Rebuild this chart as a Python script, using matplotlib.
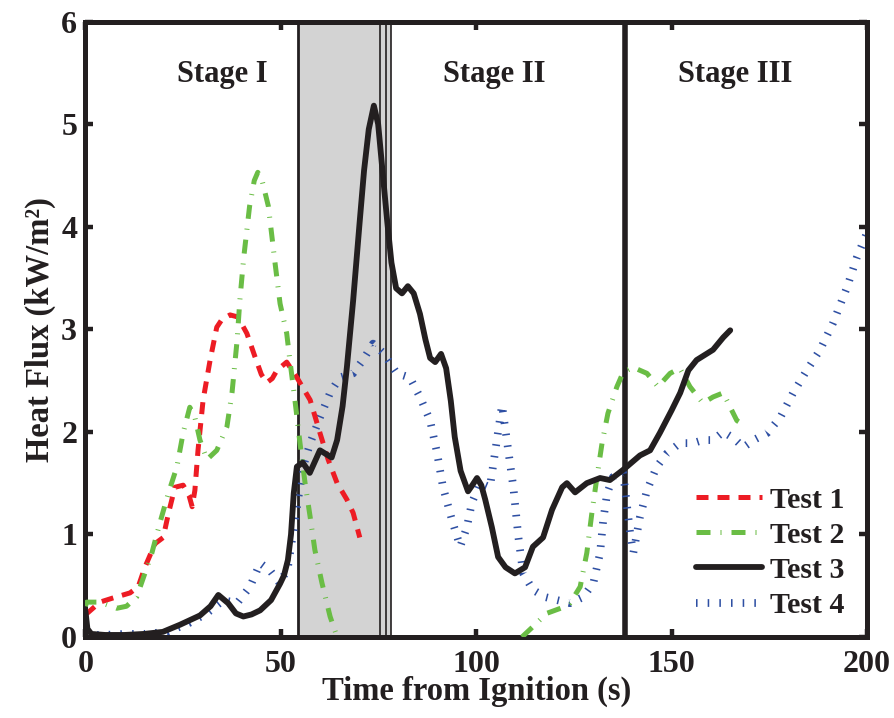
import matplotlib
matplotlib.use("Agg")
import matplotlib.pyplot as plt
import numpy as np

plt.rcParams['font.family'] = ['Liberation Serif', 'DejaVu Serif']
plt.rcParams['font.weight'] = 'bold'

# ---- data ----
t1 = [0, 0.7, 3.7, 7, 11.4, 13.5, 15.2, 17.8, 19.9, 21.2, 22.9, 25, 26.5, 27.3, 28, 28.8, 30.1, 31.9,
      33.6, 35, 37, 39, 41.3, 43.4, 45, 46.4, 47.8, 49, 51.5, 54.1, 57.5, 60, 62.1, 64.4, 66.9, 68.5, 70.2]
y1 = [0.22, 0.24, 0.34, 0.38, 0.43, 0.49, 0.68, 0.91, 0.97, 1.2, 1.46, 1.48, 1.38, 1.27, 1.43, 1.82, 2.31, 2.7,
      3.02, 3.1, 3.14, 3.12, 2.96, 2.73, 2.56, 2.48, 2.52, 2.6, 2.68, 2.53, 2.31, 1.99, 1.73, 1.5, 1.34, 1.21, 0.97]

t2a = [0, 0.3, 3.7, 8, 10.5, 13.1, 15.2, 17, 19.1, 21.2, 23.4, 25, 26.7, 28, 29.3, 31.1, 33.6, 36.2, 37.5,
       38.8, 39.5, 40.5, 42, 43.2, 44.1, 45.2, 46.8, 48.5, 49.8, 51.5, 52.3, 53.6, 54.9, 56.2, 57.5, 58.7,
       60.5, 62.6, 64.4]
y2a = [0.3, 0.34, 0.34, 0.28, 0.3, 0.39, 0.62, 0.82, 1.12, 1.4, 1.66, 1.99, 2.24, 2.14, 1.92, 1.73, 1.82, 2.05, 2.38,
       2.89, 3.28, 3.7, 4.2, 4.45, 4.53, 4.45, 4.2, 3.65, 3.25, 2.96, 2.7, 2.31, 1.89, 1.5, 1.17, 0.85,
       0.53, 0.2, 0.0]
t2b = [111.7, 114.5, 118, 122.3, 124, 126.6, 128.3, 129.6, 130.9, 132.2, 133.7, 136, 137.6, 140.1,
       143.7, 146.5, 149.6, 152.1, 154.7, 158, 160.6, 163.2, 165, 166.7, 169.2]
y2b = [0.0, 0.1, 0.23, 0.29, 0.33, 0.49, 0.82, 1.21, 1.56, 1.89, 2.18, 2.44, 2.58, 2.63,
       2.57, 2.44, 2.57, 2.62, 2.44, 2.28, 2.34, 2.38, 2.24, 2.11, 2.05]
t2 = t2a + [np.nan] + t2b
y2 = y2a + [np.nan] + y2b

t3 = [0, 0.5, 1.5, 5, 10, 15, 19.8, 24.2, 29.3, 32, 34, 36.5, 38.5, 40.4, 42.5, 44.7, 47.5, 49.8, 50.8, 51.8,
      52.6, 53.3, 54.1, 55.6, 57.4, 60, 63, 64.4, 65.8, 66.9, 68.5, 70.2, 71.3, 72.5, 73.8, 74.9, 76, 77.2,
      78.3, 79.5, 81, 82.5, 84, 85.6, 87, 88.2, 89.5, 91, 92.3, 93.5, 94.5, 96, 97.9, 99, 100.2, 101.3, 102.3,
      104, 105.6, 107.5, 109.9, 112.5, 114.5, 117.1, 119.4, 122, 123.2, 125.3, 128.3, 131.7, 134.2, 137.6,
      141.9, 144.5, 147, 150, 152.2, 154.3, 156.4, 160.6, 163.2, 165]
y3 = [0.25, 0.08, 0.03, 0.02, 0.02, 0.03, 0.05, 0.12, 0.21, 0.3, 0.41, 0.33, 0.23, 0.2, 0.22, 0.26, 0.36, 0.52, 0.6, 0.75,
      1.0, 1.4, 1.66, 1.7, 1.6, 1.82, 1.75, 1.92, 2.25, 2.63, 3.28, 4.06, 4.55, 4.95, 5.18, 5.0, 4.55, 4.06,
      3.65, 3.4, 3.35, 3.42, 3.35, 3.15, 2.9, 2.72, 2.68, 2.76, 2.62, 2.3, 1.95, 1.62, 1.42, 1.48, 1.55, 1.48, 1.34,
      1.07, 0.78, 0.68, 0.62, 0.68, 0.88, 0.97, 1.24, 1.46, 1.5, 1.41, 1.5, 1.55, 1.53, 1.63,
      1.77, 1.82, 1.99, 2.21, 2.38, 2.6, 2.7, 2.8, 2.92, 2.99]

t4 = [0, 1, 5, 10, 15, 21, 26.7, 31, 35.3, 38.8, 42.1, 44.7, 47.2, 49.8, 51.8, 53.1, 54.4, 55.7, 57.5, 60,
      62.6, 65.1, 68.5, 71, 73.6, 76.2, 79.7, 83, 85.6, 88.2, 90, 91.5, 93.8, 95.9, 97.6, 98.9, 101, 103.5,
      106.6, 109.5, 110.8, 112, 114.5, 117.6, 120.7, 124, 127.4, 130, 131.7, 132.5, 133.5, 135, 137.6, 139.4,
      140.2, 141.9, 143.7, 146.2, 148.8, 152.1, 155.5, 158, 160.6, 163.2, 165.8, 168.4, 171, 174.5, 177.8,
      181.1, 184.6, 188, 191.3, 194.9, 197.4, 200]
y4 = [0.02, 0.02, 0.02, 0.03, 0.03, 0.05, 0.14, 0.23, 0.36, 0.33, 0.49, 0.72, 0.65, 0.52, 0.68, 1.01, 1.34, 1.66, 1.89, 2.14,
      2.38, 2.53, 2.57, 2.7, 2.86, 2.77, 2.57, 2.53, 2.34, 2.11, 1.79, 1.46, 1.14, 0.88, 1.07, 1.31, 1.5, 1.46,
      2.26, 1.46, 0.97, 0.62, 0.46, 0.39, 0.36, 0.33, 0.39, 0.53, 0.82, 1.14, 1.4, 1.56, 1.6, 1.01,
      0.82, 1.17, 1.43, 1.66, 1.79, 1.89, 1.89, 1.92, 1.92, 2.0, 1.94, 1.85, 1.92, 1.99, 2.14,
      2.38, 2.6, 2.8, 3.06, 3.41, 3.7, 3.94]

labels = ['Test 1', 'Test 2', 'Test 3', 'Test 4']
stage_names = ['Stage I', 'Stage II', 'Stage III']
stage_x = [35, 104.6, 166.2]
shade_span = [54.4, 78.2]
shade_lines = [54.4, 75.3, 77.0, 78.2]
stage3_line = 138.2
xticks = [0, 50, 100, 150, 200]
yticks = [0, 1, 2, 3, 4, 5, 6]

# ---- figure ----
fig = plt.figure(figsize=(8.95, 7.18), dpi=100)
ax = fig.add_axes([0.0955, 0.1128, 0.9687 - 0.0955, 0.970 - 0.1128])

ax.axvspan(shade_span[0], shade_span[1], color='#d3d3d3', zorder=0, lw=0)
for i, xl in enumerate(shade_lines):
    ax.axvline(xl, color='#231f20', lw=2.0 if i == 0 else 1.2, zorder=1)
ax.axvline(stage3_line, color='#231f20', lw=4.0, zorder=1)

red = '#ed1c24'
green = '#6abd45'
black = '#231f20'
blue = '#2e4fa3'

l1, = ax.plot(t1, y1, color=red, lw=3.6, dashes=(2.4, 1.8), label=labels[0], zorder=3)
l2, = ax.plot(t2, y2, color=green, lw=3.6, dashes=(2.8, 2.0, 0.2, 2.0), label=labels[1], zorder=3)
l3, = ax.plot(t3, y3, color=black, lw=4.2, label=labels[2], zorder=4,
              solid_joinstyle='round', solid_capstyle='round')
l4, = ax.plot(t4, y4, color=blue, lw=5.6, dashes=(0.2, 1.3), label=labels[3], zorder=2)
for l in (l1, l2, l4):
    l.set_dash_capstyle('butt')

for name, xs in zip(stage_names, stage_x):
    ax.text(xs, 5.48, name, ha='center', va='center', fontsize=22, fontweight='bold', color=black)

ax.set_xlim(0, 200)
ax.set_ylim(0, 6)
ax.set_xticks(xticks)
ax.set_yticks(yticks)
ax.tick_params(direction='in', length=6, width=3.2, labelsize=23, top=True, right=True,
               color=black, labelcolor=black)
ax.tick_params(axis='x', pad=9)
ax.tick_params(axis='y', pad=6)
for lab in ax.get_xticklabels() + ax.get_yticklabels():
    lab.set_fontweight('bold')
for s in ax.spines.values():
    s.set_linewidth(3.6)
    s.set_color(black)

ax.set_xlabel('Time from Ignition (s)', fontsize=23.5, fontweight='bold', labelpad=-2, color=black)
ax.set_ylabel('Heat Flux (kW/m²)', fontsize=23.5, fontweight='bold', labelpad=4, color=black)

leg = ax.legend(handles=[l1, l2, l3, l4], loc='center left', bbox_to_anchor=(156.2, 0.82),
                bbox_transform=ax.transData, frameon=False, borderpad=0, borderaxespad=0,
                handlelength=2.2, handletextpad=0.3, labelspacing=0.27,
                prop={'family': 'Liberation Serif', 'weight': 'bold', 'size': 21.5})
for t in leg.get_texts():
    t.set_color(black)

fig.savefig('out.png', dpi=100)
